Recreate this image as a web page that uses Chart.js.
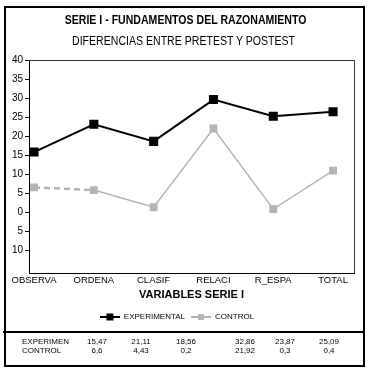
<!DOCTYPE html>
<html><head><meta charset="utf-8">
<script src="https://cdn.jsdelivr.net/npm/chart.js@4/dist/chart.umd.min.js"></script>
<style>
html,body{margin:0;padding:0;background:#fff;}
#wrap{position:relative;width:371px;height:372px;overflow:hidden;font-family:"Liberation Sans",Arial,sans-serif;color:#000;}
#frame{position:absolute;left:4px;top:6px;width:361px;height:361px;border:2px solid #000;box-sizing:border-box;}
#divider{position:absolute;left:3px;top:331px;width:362px;height:2px;background:#000;}
#c{position:absolute;left:0;top:0;}
.t{position:absolute;left:0;width:371px;text-align:center;white-space:nowrap;transform-origin:186px 50%;}
#title{top:13px;font-weight:bold;font-size:12px;transform:scaleX(0.88);}
#subtitle{top:34px;font-size:12px;transform:scaleX(0.88);left:-2px;}
.cell{position:absolute;font-size:8px;white-space:nowrap;line-height:9px;}
</style>
</head><body>
<div id="wrap">
  <canvas id="c" width="371" height="331"></canvas>
  <div id="frame"></div>
  <div id="divider"></div>
  <div class="t" id="title">SERIE I - FUNDAMENTOS DEL RAZONAMIENTO</div>
  <div class="t" id="subtitle">DIFERENCIAS ENTRE PRETEST Y POSTEST</div>
</div>
<script>
const categories = ['OBSERVA', 'ORDENA', 'CLASIF', 'RELACI', 'R_ESPA', 'TOTAL'];
const experimental = [15.8, 23.1, 18.6, 29.6, 25.2, 26.4];
const control = [6.5, 5.8, 1.3, 22.0, 0.8, 10.9];
const yTicks = [40, 35, 30, 25, 20, 15, 10, 5, 0, -5, -10];
const seriesNames = ['EXPERIMENTAL', 'CONTROL'];
const tableRowLabels = ['EXPERIMEN', 'CONTROL'];
const tableExperimental = ['15,47', '21,11', '18,56', '32,86', '23,87', '25,09'];
const tableControl = ['6,6', '4,43', '0,2', '21,92', '0,3', '0,4'];
const xAxisTitle = 'VARIABLES SERIE I';

// table (layout only)
const colCenters = [97, 141, 186, 245, 285, 329];
const rowTops = [337, 346];
const wrap = document.getElementById('wrap');
[tableExperimental, tableControl].forEach((vals, r) => {
  const lab = document.createElement('div');
  lab.className = 'cell'; lab.textContent = tableRowLabels[r];
  lab.style.left = '22px'; lab.style.top = rowTops[r] + 'px';
  wrap.appendChild(lab);
  vals.forEach((v, i) => {
    const d = document.createElement('div');
    d.className = 'cell'; d.textContent = v;
    d.style.left = (colCenters[i] - 20) + 'px'; d.style.width = '40px'; d.style.textAlign = 'center';
    d.style.top = rowTops[r] + 'px';
    wrap.appendChild(d);
  });
});

function legendIcon(color, lw, side) {
  const cv = document.createElement('canvas');
  cv.width = 20; cv.height = 8;
  const g = cv.getContext('2d');
  g.strokeStyle = color; g.lineWidth = lw;
  g.beginPath(); g.moveTo(0, 4); g.lineTo(20, 4); g.stroke();
  g.fillStyle = color;
  g.fillRect(10 - side / 2, 4 - side / 2, side, side);
  return cv;
}
const icons = [legendIcon('#000', 2, 7), legendIcon('#b4b4b4', 2, 6)];

const framePlugin = {
  id: 'frame',
  afterDraw(chart) {
    const a = chart.chartArea, c = chart.ctx;
    c.save(); c.strokeStyle = '#333'; c.lineWidth = 1;
    c.beginPath();
    c.moveTo(a.left, a.top + 0.5); c.lineTo(a.right + 0.5, a.top + 0.5); c.lineTo(a.right + 0.5, a.bottom);
    c.stroke(); c.restore();
  }
};

const FONT = "'Liberation Sans', Arial, sans-serif";
new Chart(document.getElementById('c'), {
  type: 'line',
  data: {
    datasets: [
      {
        label: seriesNames[0],
        data: experimental.map((v, i) => ({x: i, y: v})),
        borderColor: '#000', backgroundColor: '#000', borderWidth: 2,
        pointStyle: 'rect', pointRadius: 5, pointHoverRadius: 5, tension: 0
      },
      {
        label: seriesNames[1],
        data: control.map((v, i) => ({x: i, y: v})),
        borderColor: '#b4b4b4', backgroundColor: '#b4b4b4', borderWidth: 1.5,
        pointStyle: 'rect', pointRadius: 4.5, pointHoverRadius: 4.5, tension: 0,
        segment: {
          borderDash: ctx => ctx.p0DataIndex === 0 ? [6, 4] : undefined,
          borderWidth: ctx => ctx.p0DataIndex === 0 ? 2.5 : 1.5
        }
      }
    ]
  },
  options: {
    responsive: false, animation: false, devicePixelRatio: 1,
    layout: {padding: {top: 60, left: 0, right: 17, bottom: 0}},
    plugins: {
      tooltip: {enabled: false},
      title: {display: false},
      legend: {
        position: 'bottom',
        labels: {
          usePointStyle: true, pointStyleWidth: 20, boxHeight: 8,
          color: '#000', font: {family: FONT, size: 8}, padding: 6,
          generateLabels: chart => chart.data.datasets.map((ds, i) => ({
            text: ds.label, pointStyle: icons[i], fillStyle: ds.borderColor,
            strokeStyle: ds.borderColor, lineWidth: 0, datasetIndex: i, hidden: false, fontColor: '#000'
          }))
        }
      }
    },
    scales: {
      x: {
        type: 'linear', min: -0.084, max: 5.35,
        afterBuildTicks: s => { s.ticks = categories.map((c, i) => ({value: i})); },
        afterFit: s => { s.height = 34; },
        ticks: {
          autoSkip: false, maxRotation: 0, color: '#000', padding: 2,
          font: {family: FONT, size: 9.5},
          callback: v => categories[v]
        },
        grid: {display: false, drawTicks: false},
        border: {display: true, color: '#000', width: 1},
        title: {display: true, text: xAxisTitle, color: '#000', font: {family: FONT, size: 11, weight: 'bold'}, padding: {top: 0, bottom: 5}}
      },
      y: {
        min: -16, max: 40,
        afterBuildTicks: s => { s.ticks = yTicks.map(v => ({value: v})); },
        afterFit: s => { s.width = 29; },
        ticks: {
          color: '#000', padding: 2, font: {family: FONT, size: 10},
          callback: v => String(Math.abs(v))
        },
        grid: {drawOnChartArea: false, drawTicks: true, tickLength: 4, color: '#000'},
        border: {display: true, color: '#000', width: 1}
      }
    }
  },
  plugins: [framePlugin]
});
</script>
</body></html>
